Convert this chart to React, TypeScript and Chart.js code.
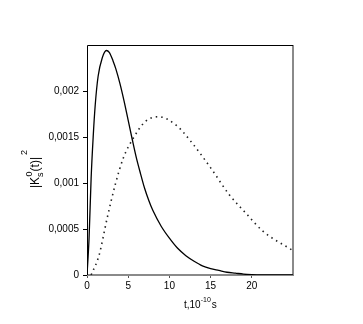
import React, { useEffect, useRef } from "react";
import { Chart, registerables } from "chart.js";

Chart.register(...registerables);

// Solid curve: time (10^-10 s) and |K|^2
const solidT = [0, 0.25, 0.5, 0.75, 1.0, 1.35, 1.85, 2.35, 2.7, 3.15, 3.5, 4.0, 4.5, 5.0, 5.5, 6.0, 6.5, 7.0, 7.5, 8.0, 9.0, 10, 11, 12, 13, 14, 15, 16, 17, 18, 19, 20, 22, 25];
const solidV = [0, 0.0004, 0.00105, 0.0015, 0.00185, 0.00216, 0.00236, 0.00244, 0.00242, 0.00233, 0.00224, 0.00208, 0.00189, 0.00168, 0.00147, 0.00127, 0.0011, 0.00094, 0.00081, 0.0007, 0.00053, 0.0004, 0.00029, 0.00021, 0.00015, 0.0001, 0.00007, 0.00005, 0.00003, 0.00002, 0.00001, 0.000005, 0, 0];

// Dotted curve
const dotT = [0.5, 1.45, 2.45, 3.45, 4.4, 5.5, 7.1, 8.7, 10.8, 12.8, 15.2, 17.2, 19.3, 21.3, 24.9];
const dotV = [0, 0.00021, 0.00062, 0.00099, 0.00127, 0.00147, 0.00167, 0.00172, 0.00163, 0.00143, 0.00114, 0.00088, 0.00067, 0.00048, 0.00027];

const yTickValues = [0, 0.0005, 0.001, 0.0015, 0.002];
const yTickLabels = ["0", "0,0005", "0,001", "0,0015", "0,002"];
const xTickValues = [0, 5, 10, 15, 20];
const xTickLabels = ["0", "5", "10", "15", "20"];

const FONT = "'Liberation Sans', Arial, sans-serif";

const framePlugin = {
  id: "frame",
  beforeDatasetsDraw(chart: any) {
    const { ctx, chartArea: a } = chart;
    ctx.save();
    ctx.lineWidth = 2;
    ctx.strokeStyle = "#8a8a8a";
    ctx.beginPath();
    ctx.moveTo(a.left, a.bottom);
    ctx.lineTo(a.right, a.bottom);
    ctx.lineTo(a.right, a.top);
    ctx.stroke();
    ctx.lineWidth = 1;
    ctx.strokeStyle = "#000";
    ctx.beginPath();
    ctx.moveTo(a.right, a.top + 0.5);
    ctx.lineTo(a.left + 0.5, a.top + 0.5);
    ctx.lineTo(a.left + 0.5, a.bottom);
    ctx.stroke();
    ctx.restore();
  },
  afterDraw(chart: any) {
    const ctx = chart.ctx;
    ctx.save();
    ctx.fillStyle = "#000";
    // y title, rotated
    ctx.translate(35, 166);
    ctx.rotate(-Math.PI / 2);
    ctx.textBaseline = "alphabetic";
    ctx.textAlign = "left";
    let x = -22;
    const big = `12px ${FONT}`;
    const small = `9px ${FONT}`;
    ctx.font = big;
    ctx.fillText("|K", x, 4);
    x += ctx.measureText("|K").width;
    ctx.font = small;
    ctx.fillText("s", x, 8);
    ctx.fillText("0", x + 0.5, -3);
    x += ctx.measureText("s").width + 1;
    ctx.font = big;
    ctx.fillText("(t)|", x, 4);
    x += ctx.measureText("(t)|").width + 2;
    ctx.font = small;
    ctx.fillText("2", x, -8);
    ctx.restore();

    // x title
    ctx.save();
    ctx.fillStyle = "#000";
    ctx.textBaseline = "alphabetic";
    ctx.textAlign = "left";
    let xx = 184;
    ctx.font = `10px ${FONT}`;
    ctx.fillText("t,10", xx, 308);
    xx += ctx.measureText("t,10").width;
    ctx.font = `7px ${FONT}`;
    ctx.fillText("-10", xx, 302);
    xx += ctx.measureText("-10").width + 1;
    ctx.font = `10px ${FONT}`;
    ctx.fillText("s", xx, 308);
    ctx.restore();
  },
};

export default function App() {
  const ref = useRef<HTMLCanvasElement | null>(null);
  useEffect(() => {
    document.body.style.margin = "0";
    const canvas = ref.current!;
    const chart = new Chart(canvas, {
      type: "line",
      data: {
        datasets: [
          {
            data: solidT.map((t, i) => ({ x: t, y: solidV[i] })),
            borderColor: "#000",
            borderWidth: 1.3,
            pointRadius: 0,
            cubicInterpolationMode: "monotone",
            fill: false,
          },
          {
            data: dotT.map((t, i) => ({ x: t, y: dotV[i] })),
            borderColor: "#222",
            borderWidth: 1.6,
            borderDash: [1.5, 4],
            pointRadius: 0,
            cubicInterpolationMode: "monotone",
            fill: false,
          },
        ],
      },
      options: {
        animation: false,
        responsive: false,
        maintainAspectRatio: false,
        layout: { padding: { left: 0, right: 70, top: 45, bottom: 0 } },
        plugins: { legend: { display: false }, tooltip: { enabled: false } },
        scales: {
          x: {
            type: "linear",
            min: 0,
            max: 25,
            border: { display: false },
            grid: { drawOnChartArea: false, drawTicks: true, tickLength: 3, color: "#555" },
            afterBuildTicks: (s: any) => {
              s.ticks = xTickValues.map((v) => ({ value: v }));
            },
            afterFit: (s: any) => {
              s.height = 49;
            },
            ticks: {
              autoSkip: false,
              maxRotation: 0,
              padding: 2,
              color: "#000",
              font: { family: FONT, size: 10 },
              callback: (_v: any, i: number) => xTickLabels[i],
            },
          },
          y: {
            type: "linear",
            min: 0,
            max: 0.0025,
            border: { display: false },
            grid: { drawOnChartArea: false, drawTicks: true, tickLength: 4, color: "#000" },
            afterBuildTicks: (s: any) => {
              s.ticks = yTickValues.map((v) => ({ value: v }));
            },
            afterFit: (s: any) => {
              s.width = 87;
            },
            ticks: {
              autoSkip: false,
              padding: 4,
              color: "#000",
              font: { family: FONT, size: 10 },
              callback: (_v: any, i: number) => yTickLabels[i],
            },
          },
        },
      },
      plugins: [framePlugin],
    });
    return () => chart.destroy();
  }, []);
  return (
    <div style={{ width: 363, height: 324, background: "#fff" }}>
      <canvas ref={ref} width={363} height={324} style={{ display: "block" }} />
    </div>
  );
}
